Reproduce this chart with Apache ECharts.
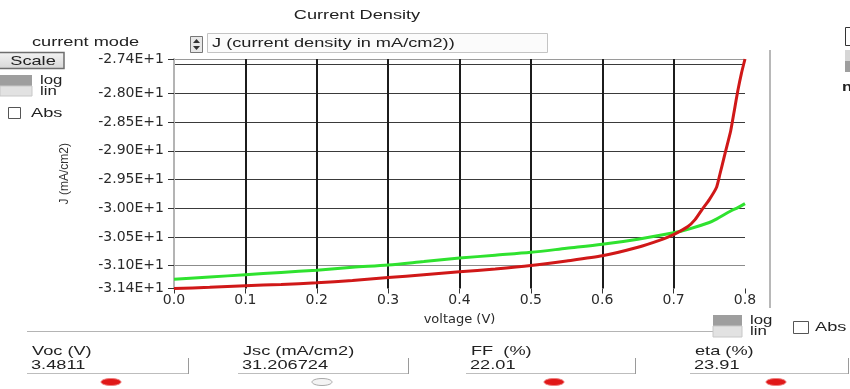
<!DOCTYPE html>
<html>
<head>
<meta charset="utf-8">
<script src="https://cdn.jsdelivr.net/npm/echarts@6/dist/echarts.min.js"></script>
<style>
html, body { margin: 0; padding: 0; background: #fff; }
#chart { width: 850px; height: 389px; }
</style>
</head>
<body>
<div id="chart"></div>
<script>
// J-V curves (voltage in V, J in mA/cm2)
var redVolts = [0.0, 0.05, 0.1, 0.15, 0.2, 0.25, 0.3, 0.35, 0.4, 0.45, 0.5, 0.55, 0.6, 0.65, 0.68, 0.7, 0.72, 0.73, 0.74, 0.75, 0.76, 0.765, 0.77, 0.775, 0.78, 0.785, 0.79, 0.795, 0.8];
var redJ = [-31.40, -31.38, -31.35, -31.33, -31.30, -31.26, -31.21, -31.16, -31.11, -31.06, -31.00, -30.92, -30.83, -30.68, -30.56, -30.46, -30.32, -30.20, -30.02, -29.85, -29.64, -29.40, -29.15, -28.90, -28.65, -28.30, -27.95, -27.65, -27.40];
var greenVolts = [0.0, 0.05, 0.1, 0.15, 0.2, 0.25, 0.3, 0.35, 0.4, 0.45, 0.5, 0.55, 0.6, 0.65, 0.7, 0.72, 0.75, 0.76, 0.78, 0.79, 0.8];
var greenJ = [-31.24, -31.20, -31.16, -31.12, -31.08, -31.03, -30.99, -30.93, -30.87, -30.82, -30.77, -30.70, -30.63, -30.54, -30.43, -30.37, -30.25, -30.19, -30.05, -29.99, -29.92];

// axis ticks
var yLabelTicks = [-31.4, -31.0, -30.5, -30.0, -29.5, -29.0, -28.5, -28.0, -27.4];
var yGridTicks = [-31.0, -30.5, -30.0, -29.5, -29.0, -28.5, -28.0, -27.5, -27.4];
var xGridTicks = [0.1, 0.2, 0.3, 0.4, 0.5, 0.6, 0.7];

// result fields under the plot
var fieldNames = ['Voc (V)', 'Jsc (mA/cm2)', 'FF  (%)', 'eta (%)'];
var fieldValues = ['3.4811', '31.206724', '22.01', '23.91'];
var fieldLeft = [27, 238, 466, 690];
var fieldRight = [188, 408, 635, 848];
var iconX = [111, 322, 554, 776];

function pairs(xs, ys) {
    return xs.map(function (x, i) { return [x, ys[i]]; });
}

// stretched UI text (the screenshot is wide)
function label(x, y, s, align, extra) {
    var el = {
        type: 'text', x: x, y: y, scaleX: 1.4, silent: true,
        style: {
            text: s, font: '13px "Liberation Sans", Arial, sans-serif',
            fill: '#222', textAlign: align || 'left', textVerticalAlign: 'middle'
        }
    };
    if (extra) Object.assign(el.style, extra);
    return el;
}
function line(x1, y1, x2, y2, color, w) {
    return { type: 'line', silent: true, shape: { x1: x1, y1: y1, x2: x2, y2: y2 }, style: { stroke: color, lineWidth: w || 1 } };
}
function box(x, y, w, h, fill, stroke) {
    return { type: 'rect', silent: true, shape: { x: x, y: y, width: w, height: h }, style: { fill: fill, stroke: stroke || null, lineWidth: 1 } };
}

var small = { font: '12px "Liberation Sans", Arial, sans-serif' };

var graphics = [
    label(357, 15, 'Current Density', 'center'),
    label(32, 42, 'current mode'),
    // dropdown
    box(190.5, 36.5, 12, 16, '#e8e8e8', '#777'),
    { type: 'polygon', silent: true, shape: { points: [[193, 43], [200, 43], [196.5, 39]] }, style: { fill: '#333' } },
    { type: 'polygon', silent: true, shape: { points: [[193, 46], [200, 46], [196.5, 50]] }, style: { fill: '#333' } },
    box(207.5, 33.5, 340, 19, '#fbfbfb', '#c4c4c4'),
    label(212, 43, 'J (current density in mA/cm2))'),
    // scale button
    {
        type: 'rect', silent: true, shape: { x: -2, y: 52.5, width: 66, height: 16 },
        style: { fill: new echarts.graphic.LinearGradient(0, 0, 0, 1, [{ offset: 0, color: '#f4f4f4' }, { offset: 1, color: '#d6d6d6' }]), stroke: '#6e6e6e', lineWidth: 1.5 }
    },
    label(33, 61, 'Scale', 'center'),
    // log / lin toggle
    box(0, 75, 32, 11, '#9e9e9e'),
    box(0, 86, 32, 10, '#e2e2e2', '#c8c8c8'),
    label(40, 81, 'log', 'left', small),
    label(40, 92, 'lin', 'left', small),
    box(8.5, 107.5, 12, 11, '#fff', '#555'),
    label(31, 113, 'Abs'),
    // right edge, cut-off controls
    box(845.5, 27.5, 8, 18, '#fff', '#333'),
    box(845, 50, 8, 11, '#d6d6d6'),
    box(845, 61, 8, 11, '#9e9e9e'),
    label(842, 88, 'n', 'left', { fontWeight: 'bold' }),
    // separators
    line(770, 50, 770, 308, '#b8b8b8', 2),
    line(27, 331.5, 713, 331.5, '#b4b4b4', 1),
    // bottom log / lin toggle
    box(713, 315, 29, 11, '#9e9e9e'),
    box(713, 326, 29, 11, '#e2e2e2', '#c8c8c8'),
    label(750, 320.5, 'log', 'left', small),
    label(750, 331.5, 'lin', 'left', small),
    box(793.5, 321.5, 15, 12, '#fff', '#555'),
    label(815, 327, 'Abs')
];

fieldNames.forEach(function (name, i) {
    graphics.push(label(fieldLeft[i] + 5, 351, name));
    graphics.push(label(fieldLeft[i] + 4, 365, fieldValues[i]));
    graphics.push(line(fieldLeft[i], 373.5, fieldRight[i], 373.5, '#bdbdbd', 1));
    graphics.push(line(fieldRight[i] + 0.5, 358, fieldRight[i] + 0.5, 374, '#9a9a9a', 1));
    graphics.push({
        type: 'ellipse', silent: true,
        shape: { cx: iconX[i], cy: 382, rx: 10, ry: 3.5 },
        style: i === 1 ? { fill: '#f4f4f4', stroke: '#aaa' } : { fill: '#e01818', stroke: '#f08080' }
    });
});

var chartDom = document.getElementById('chart');
var myChart = echarts.init(chartDom);
var labelFont = { color: '#2a2a2a', fontFamily: 'DejaVu Sans', fontSize: 14 };

var option = {
    animation: false,
    backgroundColor: '#fff',
    graphic: graphics,
    grid: { left: 174, right: 105, top: 59, bottom: 100.5 },
    xAxis: [
        {
            type: 'value', min: 0, max: 0.8, interval: 0.1,
            name: 'voltage (V)', nameLocation: 'middle', nameGap: 25,
            nameTextStyle: { color: '#2a2a2a', fontFamily: 'DejaVu Sans', fontSize: 13 },
            axisLine: { show: false },
            axisTick: { show: true, length: 5, lineStyle: { color: '#333', width: 1 } },
            axisLabel: Object.assign({ margin: 5, formatter: function (v) { return v.toFixed(1); } }, labelFont),
            splitLine: { show: false }
        },
        {
            // vertical grid only
            type: 'value', min: 0, max: 0.8, position: 'bottom',
            axisLine: { show: false },
            axisTick: { show: false, customValues: xGridTicks },
            axisLabel: { show: false },
            splitLine: { show: true, lineStyle: { color: '#1c1c1c', width: 2 } }
        }
    ],
    yAxis: [
        {
            type: 'value', min: -31.4, max: -27.4,
            name: 'J (mA/cm2)', nameLocation: 'middle', nameGap: 103, nameRotate: 90,
            nameTextStyle: { color: '#333', fontFamily: 'Liberation Sans', fontSize: 12 },
            axisLine: { show: true, lineStyle: { color: '#b4b4b4', width: 2 } },
            axisTick: { show: true, length: 6, customValues: yLabelTicks, lineStyle: { color: '#333' } },
            axisLabel: Object.assign({
                margin: 10, customValues: yLabelTicks,
                formatter: function (v) { return (v / 10).toFixed(2) + 'E+1'; }
            }, labelFont),
            splitLine: { show: false }
        },
        {
            // horizontal grid only
            type: 'value', min: -31.4, max: -27.4, position: 'left',
            axisLine: { show: false },
            axisTick: { show: false, customValues: yGridTicks },
            axisLabel: { show: false },
            splitLine: {
                show: true,
                lineStyle: { color: ['#8c8c8c', '#3a3a3a', '#3a3a3a', '#3a3a3a', '#3a3a3a', '#3a3a3a', '#3a3a3a', '#3a3a3a', '#9a9a9a'], width: 1 }
            }
        }
    ],
    series: [
        {
            name: 'green', type: 'line', xAxisIndex: 0, yAxisIndex: 0,
            data: pairs(greenVolts, greenJ),
            smooth: 0.3, showSymbol: false,
            lineStyle: { color: '#2fe22f', width: 3 }
        },
        {
            name: 'red', type: 'line', xAxisIndex: 0, yAxisIndex: 0,
            data: pairs(redVolts, redJ),
            smooth: 0.2, showSymbol: false,
            lineStyle: { color: '#d01818', width: 3 }
        }
    ]
};

myChart.setOption(option);
</script>
</body>
</html>
